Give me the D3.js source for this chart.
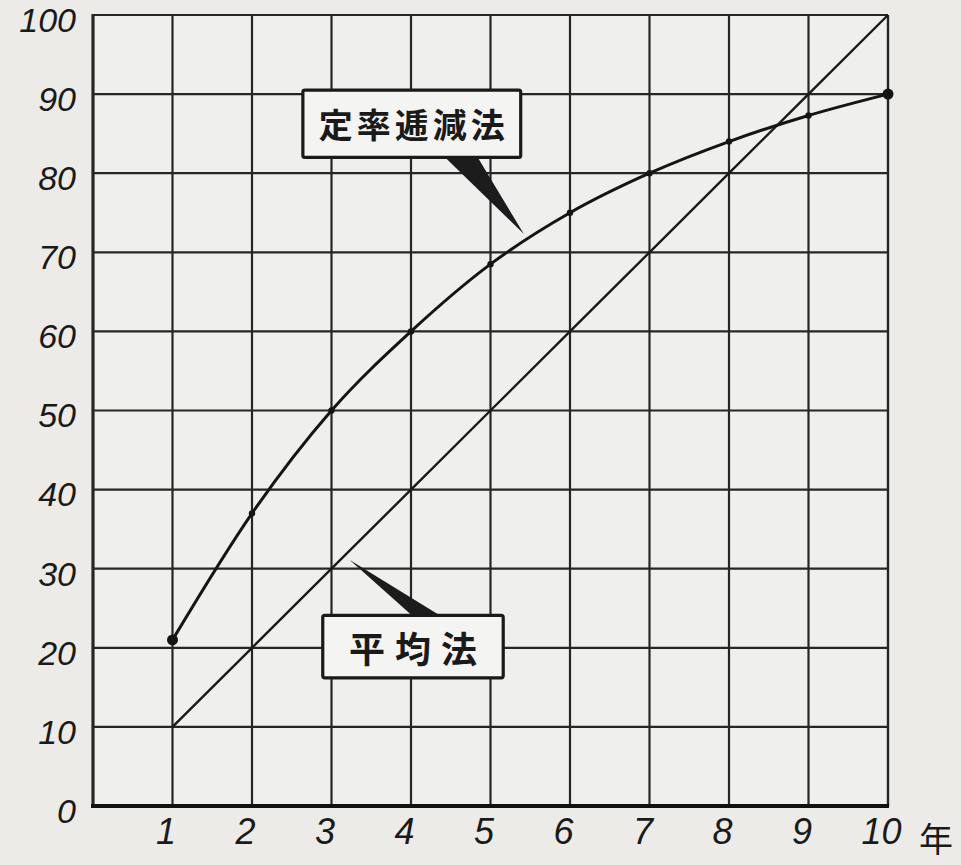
<!DOCTYPE html>
<html><head><meta charset="utf-8">
<script src="https://cdn.jsdelivr.net/npm/d3@7"></script>
<style>
html,body{margin:0;padding:0;background:#ecebe8;}
svg{display:block;}
</style></head>
<body>
<svg id="c" width="961" height="865"></svg>
<script>
// ---- data ----
const years = [1,2,3,4,5,6,7,8,9,10];
const decliningBalance = [21,37,50,60,68.5,75,80,84,87.3,90];   // 定率逓減法
const straightLine = [10,20,30,40,50,60,70,80,90,100];          // 平均法
const xTicks = [1,2,3,4,5,6,7,8,9,10];
const yTicks = [0,10,20,30,40,50,60,70,80,90,100];
const xUnit = "年";
const labelDecl = "定率逓減法";
const labelStraight = "平均法";

const svg = d3.select("#c");
const m = {left:93, right:888, top:15, bottom:806};
const x = d3.scaleLinear().domain([0,10]).range([m.left,m.right]);
const y = d3.scaleLinear().domain([0,100]).range([m.bottom,m.top]);
const ink = "#262626";

// paper
svg.append("rect").attr("width",961).attr("height",865).attr("fill","#ecebe8");
svg.append("rect").attr("x",x(0)).attr("y",y(100)).attr("width",x(10)-x(0)).attr("height",y(0)-y(100)).attr("fill","#efefed");

// grid
const g = svg.append("g");
g.selectAll("line.v").data(d3.range(1,10)).join("line")
  .attr("x1",d=>x(d)).attr("x2",d=>x(d)).attr("y1",y(100)).attr("y2",y(0))
  .attr("stroke",ink).attr("stroke-width",2.2);
g.selectAll("line.h").data(d3.range(10,100,10)).join("line")
  .attr("y1",d=>y(d)).attr("y2",d=>y(d)).attr("x1",x(0)).attr("x2",x(10))
  .attr("stroke",ink).attr("stroke-width",2.2);
// border
g.append("line").attr("x1",x(0)).attr("x2",x(10)).attr("y1",y(100)).attr("y2",y(100)).attr("stroke",ink).attr("stroke-width",2.2);
g.append("line").attr("x1",x(10)).attr("x2",x(10)).attr("y1",y(100)).attr("y2",y(0)).attr("stroke",ink).attr("stroke-width",2.4);
g.append("line").attr("x1",x(0)).attr("x2",x(0)).attr("y1",y(100)-1).attr("y2",y(0)+2).attr("stroke",ink).attr("stroke-width",3.2);
g.append("line").attr("x1",x(0)-2).attr("x2",x(10)+1).attr("y1",y(0)).attr("y2",y(0)).attr("stroke","#111").attr("stroke-width",4);

// axes labels (via d3 axes, domain & ticks hidden)
const font = "'Liberation Sans', Arial, sans-serif";
const yAxis = svg.append("g").attr("transform",`translate(${x(0)-17},0)`)
  .call(d3.axisLeft(y).tickValues(yTicks).tickSize(0).tickPadding(0));
yAxis.select(".domain").remove();
yAxis.selectAll("text").attr("font-family",font).attr("font-style","italic")
  .attr("font-size",34).attr("fill","#1a1a1a").attr("dy","0.48em");

const xAxis = svg.append("g").attr("transform",`translate(-7,${y(0)+12})`)
  .call(d3.axisBottom(x).tickValues(xTicks).tickSize(0).tickPadding(0));
xAxis.select(".domain").remove();
xAxis.selectAll("text").attr("font-family",font).attr("font-style","italic")
  .attr("font-size",36).attr("fill","#1a1a1a").attr("dy","0.72em");
svg.append("text").attr("x",x(10)+48).attr("y",y(0)+46).attr("text-anchor","middle")
  .attr("font-family","'Noto Sans CJK JP', sans-serif").attr("font-size",34).attr("fill","#1a1a1a").text(xUnit);

// straight line series
const line = d3.line().x((d,i)=>x(years[i])).y(d=>y(d));
svg.append("path").datum(straightLine).attr("d",line)
  .attr("fill","none").attr("stroke","#1a1a1a").attr("stroke-width",2.4);

// declining balance curve
const curve = d3.line().x((d,i)=>x(years[i])).y(d=>y(d)).curve(d3.curveMonotoneX);
svg.append("path").datum(decliningBalance).attr("d",curve)
  .attr("fill","none").attr("stroke","#151515").attr("stroke-width",3);
svg.selectAll("circle.pt").data(decliningBalance).join("circle")
  .attr("cx",(d,i)=>x(years[i])).attr("cy",d=>y(d))
  .attr("r",(d,i)=> (i===0||i===years.length-1)?5.5:3.2)
  .attr("fill","#151515");

// annotation boxes (positions in data units)
function callout(box, ptr, text, fs, ls){
  const gg = svg.append("g");
  gg.append("polygon")
    .attr("points",ptr.map(p=>[x(p[0]),y(p[1])].join(",")).join(" "))
    .attr("fill","#1c1c1c");
  gg.append("rect").attr("x",x(box.x0)).attr("y",y(box.y1))
    .attr("width",x(box.x1)-x(box.x0)).attr("height",y(box.y0)-y(box.y1))
    .attr("fill","#f4f4f2").attr("stroke","#1a1a1a").attr("stroke-width",3.2).attr("rx",2);
  gg.append("text").attr("x",(x(box.x0)+x(box.x1))/2+ls/2).attr("y",(y(box.y0)+y(box.y1))/2)
    .attr("text-anchor","middle").attr("dominant-baseline","central")
    .attr("font-family","'Noto Sans CJK JP', sans-serif").attr("font-weight","bold")
    .attr("font-size",fs).attr("letter-spacing",ls).attr("fill","#1a1a1a").text(text);
}
callout({x0:2.64,x1:5.38,y0:82.0,y1:90.5},
  [[4.43,82],[4.84,82],[5.42,72.3]], labelDecl, 34, 4);
callout({x0:2.89,x1:5.16,y0:16.2,y1:24.1},
  [[3.23,31.1],[4.01,24.1],[4.36,24.1]], labelStraight, 36, 10);
</script>
</body></html>
